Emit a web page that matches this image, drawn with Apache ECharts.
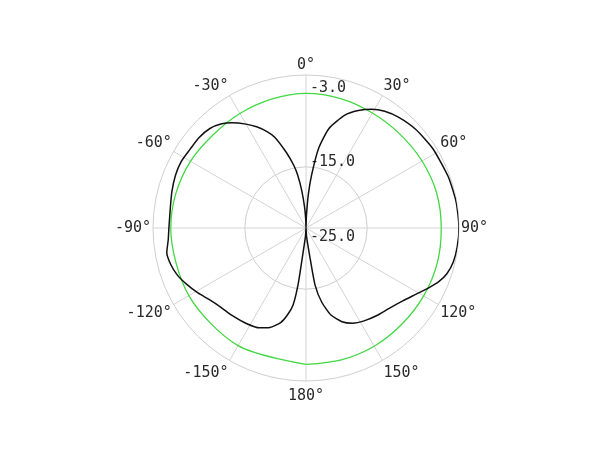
<!DOCTYPE html>
<html>
<head>
<meta charset="utf-8">
<script src="https://cdn.jsdelivr.net/npm/echarts@6/dist/echarts.min.js"></script>
<style>
  html, body { margin: 0; padding: 0; background: #fff; }
  #main { width: 610px; height: 450px; }
</style>
</head>
<body>
<div id="main"></div>
<script>
// 方向图数据 (角度 / dB)
const blackAngles = [-180, -176, -173, -172, -170.5, -168, -165, -160, -155, -148, -140, -133, -127, -121, -115, -110, -105, -100, -95, -90,
  -82, -75, -68, -62, -56, -50, -44, -39, -35, -30, -26, -22, -19, -14.5, -11, -9, -6.5, -4, -2,
  0, 2, 4, 6, 9, 13, 19, 24, 29, 34, 40, 48, 58, 70, 80, 90,
  97, 103, 108, 112, 116, 121, 127, 134, 141, 148, 154, 159, 164, 168, 171, 172.5, 176, 180];
const blackDb = [-25, -23.5, -20.5, -15.6, -12.3, -10.5, -9.0, -7.7, -7.0, -6.6, -6.3, -6.0, -5.4, -4.4, -3.4, -2.6, -2.1, -1.9, -2.4, -2.6,
  -2.6, -2.3, -2.0, -1.9, -2.1, -2.1, -2.4, -3.1, -4.0, -5.4, -6.6, -8.0, -9.3, -12.3, -14.6, -16.2, -18.8, -21.5, -23.5,
  -25, -23, -19.5, -16.3, -11.8, -8.3, -5.5, -4.0, -2.8, -2.0, -1.4, -0.9, -0.55, -0.3, -0.1, 0,
  -0.1, -0.3, -0.8, -1.6, -2.7, -4.0, -5.2, -6.1, -6.6, -7.1, -7.7, -8.6, -10.2, -12.6, -15.6, -20.5, -23.5, -25];

const greenAngles = [-180, -150, -120, -90, -75, -60, -45, -30, -15, 0, 15, 30, 45, 60, 75, 90, 105, 120, 135, 150, 165, 180];
const greenDb = [-2.7, -2.8, -2.9, -2.9, -3.0, -3.2, -3.5, -3.4, -3.2, -3.0, -3.1, -3.3, -3.3, -3.1, -2.9, -2.9, -2.8, -2.8, -2.8, -2.7, -2.7, -2.7];

const radiusLabels = [-25, -15, -3];

let blackData = [];
for (let i = 0; i < blackAngles.length; i++) {
  blackData.push([blackDb[i], blackAngles[i]]);
}
let greenData = [];
for (let i = 0; i < greenAngles.length; i++) {
  greenData.push([greenDb[i], greenAngles[i]]);
}

// -15 处的内圈
let ringColors = [];
for (let v = -25; v <= 0; v++) {
  ringColors.push(v === -15 ? '#cfcfcf' : 'rgba(0,0,0,0)');
}

const font = 'DejaVu Sans Mono';
const txt = '#2a2a2a';

var myChart = echarts.init(document.getElementById('main'));
var option = {
  backgroundColor: '#fff',
  animation: false,
  polar: {
    center: [306, 228],
    radius: 153
  },
  angleAxis: {
    type: 'value',
    min: 0,
    max: 360,
    interval: 30,
    startAngle: 90,
    clockwise: true,
    axisLine: { lineStyle: { color: '#cfcfcf', width: 1 } },
    axisTick: { show: false },
    splitLine: { show: true, lineStyle: { color: '#d4d4d4', width: 1 } },
    axisLabel: {
      color: txt,
      fontFamily: font,
      fontSize: 15,
      margin: 2,
      formatter: function (v) {
        let s = (v > 180 ? v - 360 : v) + '°';
        if (v === 180) return '{b|' + s + '}';
        if (v === 150 || v === 210) return '{c|' + s + '}';
        return s;
      },
      rich: {
        b: { fontFamily: font, fontSize: 15, color: txt, padding: [6, 0, 0, 0] },
        c: { fontFamily: font, fontSize: 15, color: txt, padding: [3, 0, 0, 0] }
      }
    }
  },
  radiusAxis: {
    type: 'value',
    min: -25,
    max: 0,
    interval: 1,
    axisLine: { show: false },
    axisTick: { show: false },
    splitLine: { show: true, lineStyle: { color: ringColors, width: 1 } },
    axisLabel: {
      color: txt,
      fontFamily: font,
      fontSize: 15,
      align: 'left',
      margin: -4,
      formatter: function (v) {
        if (radiusLabels.indexOf(v) < 0) return '';
        return (v === -25 ? '{lo|' : '{hi|') + v.toFixed(1) + '}';
      },
      rich: {
        lo: { fontFamily: font, fontSize: 15, color: txt, padding: [18, 0, 0, 0] },
        hi: { fontFamily: font, fontSize: 15, color: txt, padding: [0, 0, 10, 0] }
      }
    }
  },
  series: [{
    type: 'line',
    coordinateSystem: 'polar',
    data: greenData,
    smooth: 0.3,
    symbol: 'none',
    lineStyle: { color: '#42d842', width: 1.3 }
  }, {
    type: 'line',
    coordinateSystem: 'polar',
    data: blackData,
    smooth: 0.2,
    symbol: 'none',
    lineStyle: { color: '#111', width: 1.5 }
  }]
};
myChart.setOption(option);
</script>
</body>
</html>
